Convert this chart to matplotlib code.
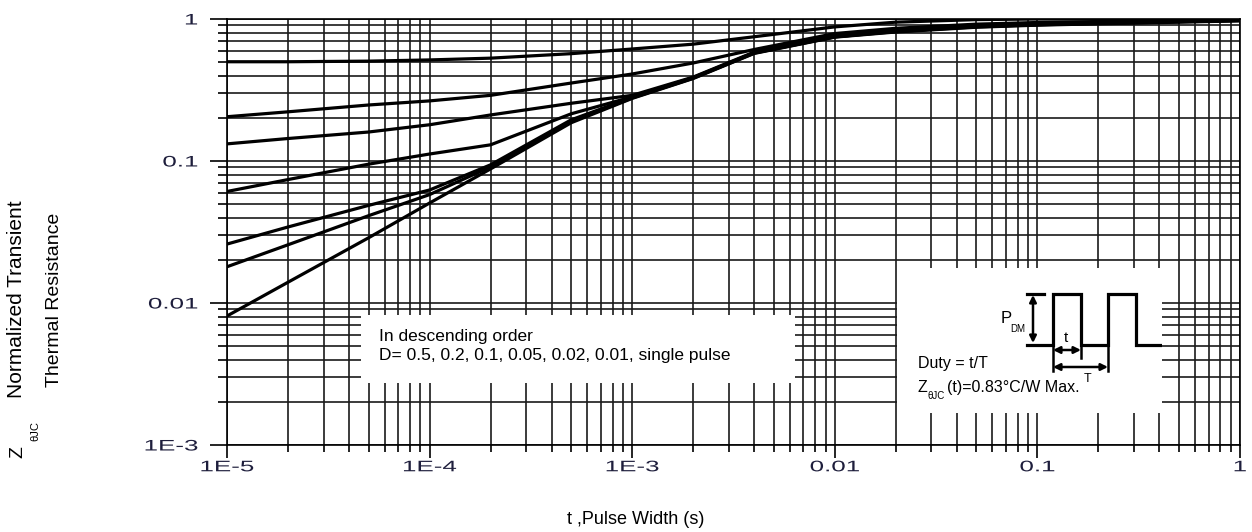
import matplotlib
matplotlib.use("Agg")
import matplotlib.pyplot as plt
from matplotlib.patheffects import AbstractPathEffect
from matplotlib.transforms import Affine2D
from matplotlib.ticker import FixedLocator, LogLocator, NullFormatter, FixedFormatter

plt.rcParams['font.family'] = ['Liberation Sans', 'DejaVu Sans']

# pulse width (s)
t = [1e-5, 2e-5, 5e-5, 1e-4, 2e-4, 5e-4, 1e-3, 2e-3, 4e-3, 1e-2, 2e-2, 5e-2, 0.1, 0.2, 0.5, 1.0]

# normalized Z(theta JC)
z_d05 = [0.50, 0.50, 0.505, 0.515, 0.53, 0.57, 0.615, 0.665, 0.75, 0.88, 0.95, 0.99, 1.0, 1.0, 1.0, 1.0]
z_d02 = [0.205, 0.222, 0.248, 0.265, 0.29, 0.354, 0.41, 0.49, 0.61, 0.79, 0.86, 0.92, 0.945, 0.96, 0.98, 0.99]
z_d01 = [0.132, 0.144, 0.16, 0.18, 0.211, 0.255, 0.29, 0.39, 0.585, 0.765, 0.835, 0.90, 0.925, 0.945, 0.97, 0.985]
z_d005 = [0.061, 0.074, 0.095, 0.112, 0.13, 0.215, 0.283, 0.387, 0.58, 0.755, 0.825, 0.89, 0.915, 0.94, 0.965, 0.98]
z_d002 = [0.026, 0.0343, 0.0487, 0.0625, 0.094, 0.195, 0.28, 0.385, 0.578, 0.75, 0.82, 0.885, 0.912, 0.935, 0.96, 0.978]
z_d001 = [0.018, 0.0257, 0.0412, 0.058, 0.091, 0.19, 0.278, 0.383, 0.575, 0.748, 0.815, 0.88, 0.91, 0.93, 0.955, 0.975]
z_single = [0.0081, 0.014, 0.0288, 0.0506, 0.088, 0.186, 0.276, 0.381, 0.572, 0.745, 0.81, 0.875, 0.905, 0.925, 0.95, 0.97]

curves = [z_d05, z_d02, z_d01, z_d005, z_d002, z_d001, z_single]

x_ticks = [1e-5, 1e-4, 1e-3, 1e-2, 1e-1, 1]
x_labels = ['1E-5', '1E-4', '1E-3', '0.01', '0.1', '1']
y_ticks = [1e-3, 1e-2, 1e-1, 1]
y_labels = ['1E-3', '0.01', '0.1', '1']

W, H = 1252, 532


def fx(px):
    return px / W


def fy(py):
    return 1 - py / H


class Stretch(AbstractPathEffect):
    """widen glyphs horizontally, the tick labels in the scan are drawn wide"""

    def __init__(self, sx, anchor='center'):
        super().__init__()
        self.sx = sx
        self.anchor = anchor

    def draw_path(self, renderer, gc, tpath, affine, rgbFace=None):
        ext = tpath.get_extents()
        cx = ext.x1 if self.anchor == 'right' else (ext.x0 + ext.x1) / 2
        pre = Affine2D().translate(-cx, 0).scale(self.sx, 1).translate(cx, 0)
        renderer.draw_path(gc, tpath, pre + affine, rgbFace)


fig = plt.figure(figsize=(W / 100, H / 100), dpi=100)
ax = fig.add_axes([fx(227), fy(445), (1240 - 227) / W, (445 - 19) / H])

for z in curves:
    ax.plot(t, z, color='black', lw=2.3, solid_capstyle='butt', zorder=3)

ax.set_xscale('log')
ax.set_yscale('log')
ax.set_xlim(1e-5, 1)
ax.set_ylim(1e-3, 1)

ax.xaxis.set_major_locator(FixedLocator(x_ticks))
ax.xaxis.set_major_formatter(FixedFormatter(x_labels))
ax.yaxis.set_major_locator(FixedLocator(y_ticks))
ax.yaxis.set_major_formatter(FixedFormatter(y_labels))
ax.xaxis.set_minor_locator(LogLocator(base=10, subs=range(2, 10), numticks=20))
ax.yaxis.set_minor_locator(LogLocator(base=10, subs=range(2, 10), numticks=20))
ax.xaxis.set_minor_formatter(NullFormatter())
ax.yaxis.set_minor_formatter(NullFormatter())

ax.grid(True, which='both', color='#1a1a1a', lw=1.2)
ax.set_axisbelow(True)
for sp in ax.spines.values():
    sp.set_color('black')
    sp.set_linewidth(1.2)

ax.tick_params(axis='y', which='major', direction='out', length=12, width=1.2, pad=9)
ax.tick_params(axis='y', which='minor', direction='out', length=6.5, width=1.2)
ax.tick_params(axis='x', which='major', direction='out', length=9, width=1.2, pad=2)
ax.tick_params(axis='x', which='minor', direction='out', length=5, width=1.2)
for lab in ax.get_xticklabels():
    lab.set_fontsize(11)
    lab.set_color('#1e1e3c')
    lab.set_path_effects([Stretch(1.7)])
for lab in ax.get_yticklabels():
    lab.set_fontsize(11)
    lab.set_color('#1e1e3c')
    lab.set_path_effects([Stretch(1.7, anchor='right')])


def pixel_box(x0, y0, x1, y1):
    # white panel laid over the grid, with pixel coordinates inside
    b = fig.add_axes([fx(x0), fy(y1), (x1 - x0) / W, (y1 - y0) / H])
    b.set_xlim(x0, x1)
    b.set_ylim(y1, y0)
    b.set_facecolor('white')
    b.set_xticks([])
    b.set_yticks([])
    for sp in b.spines.values():
        sp.set_visible(False)
    return b


# legend note
note = pixel_box(361, 315, 795, 383)
note.text(379, 341, 'In descending order', fontsize=12.5, va='baseline')
note.text(379, 360, 'D= 0.5, 0.2, 0.1, 0.05, 0.02, 0.01, single pulse', fontsize=12.5, va='baseline')

# duty cycle sketch
pb = pixel_box(897, 268, 1162, 413)
wave_x = [1027, 1053, 1053, 1081, 1081, 1108, 1108, 1136, 1136, 1162]
wave_y = [345, 345, 294, 294, 345, 345, 294, 294, 345, 345]
pb.plot(wave_x, wave_y, color='black', lw=2.3, solid_joinstyle='miter')
pb.plot([1027, 1044], [294, 294], color='black', lw=2.3)
pb.plot([1053, 1053], [345, 371], color='black', lw=1.8)
pb.plot([1081, 1081], [345, 358], color='black', lw=1.8)
pb.plot([1108, 1108], [345, 371], color='black', lw=1.8)
arrow = dict(arrowstyle='<|-|>', color='black', lw=1.8, mutation_scale=10, shrinkA=0, shrinkB=0)
pb.annotate('', xy=(1033, 295), xytext=(1033, 343), arrowprops=arrow)
pb.annotate('', xy=(1053, 350), xytext=(1081, 350), arrowprops=arrow)
pb.annotate('', xy=(1053, 367), xytext=(1108, 367), arrowprops=arrow)
pb.text(1001, 323, 'P', fontsize=12, va='baseline')
pb.text(1010, 332, 'DM', fontsize=7, va='baseline')
pb.text(1066, 342, 't', fontsize=11, ha='center', va='baseline')
pb.text(1088, 382, 'T', fontsize=9, ha='center', va='baseline')
pb.text(918, 368, 'Duty = t/T', fontsize=11.5, va='baseline')
pb.text(918, 392, 'Z', fontsize=11.5, va='baseline')
pb.text(928, 399, 'θJC', fontsize=7, va='baseline')
pb.text(947, 392, '(t)=0.83°C/W Max.', fontsize=11.5, va='baseline')

# axis titles
fig.text(fx(636), fy(519), 't ,Pulse Width (s)', fontsize=13, ha='center', va='center')
fig.text(fx(18), fy(458), 'Z', fontsize=14, rotation=90, ha='center', va='bottom')
fig.text(fx(35), fy(441), 'θJC', fontsize=8, rotation=90, ha='center', va='bottom')
fig.text(fx(17), fy(398), 'Normalized Transient', fontsize=15, rotation=90, ha='center', va='bottom')
fig.text(fx(55), fy(300), 'Thermal Resistance', fontsize=14, rotation=90, ha='center', va='center')

fig.savefig('out.png', dpi=100)
